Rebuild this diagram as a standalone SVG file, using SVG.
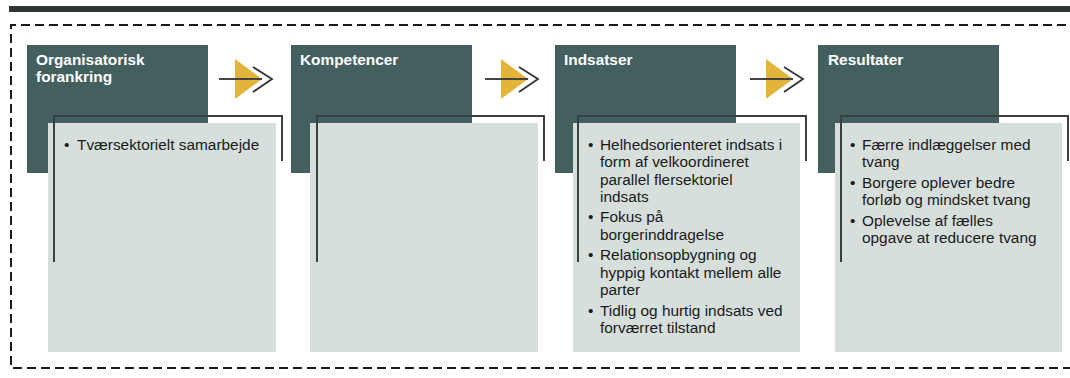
<svg xmlns="http://www.w3.org/2000/svg" width="1070" height="378" viewBox="0 0 1070 378">
  <style>
    .hdr { fill: #43605f; }
    .body { fill: #d6dfdc; }
    .bracket { fill: none; stroke: #3a3f42; stroke-width: 2; }
    .title { font-family: "Liberation Sans", Arial, sans-serif; font-size: 15.4px; font-weight: bold; fill: #ffffff; }
    .item { font-family: "Liberation Sans", Arial, sans-serif; font-size: 15.4px; fill: #1a1a1a; }
  </style>
  <defs>
    <!-- step arrow: shaft, yellow head, open chevron -->
    <g id="step-arrow">
      <polygon points="16,-20 43,0 16,20" fill="#e2b43a"/>
      <line x1="0" y1="0" x2="43" y2="0" stroke="#444" stroke-width="2"/>
      <polyline points="34,-12 53,0 34,13" fill="none" stroke="#333" stroke-width="1.8"/>
    </g>
  </defs>

  <rect width="1070" height="378" fill="#ffffff"/>

  <!-- top rule -->
  <rect x="9" y="6" width="1061" height="6" fill="#2e3537"/>

  <!-- dashed frame, open to the right -->
  <path d="M1080,25 H11 V368 H1080" fill="none" stroke="#1a1a1a" stroke-width="2" stroke-dasharray="9 5"/>

  <g id="node-organisatorisk">
    <rect class="hdr" x="27" y="45" width="181" height="128"/>
    <rect class="body" x="48" y="123" width="228" height="229"/>
    <path class="bracket" d="M54,262 V116 H282 V161"/>
    <text class="title" x="36" y="65">Organisatorisk</text>
    <text class="title" x="36" y="81.5">forankring</text>
    <text class="item" x="64" y="149.5">•</text>
    <text class="item" x="77" y="149.5">Tværsektorielt samarbejde</text>
  </g>

  <g id="node-kompetencer">
    <rect class="hdr" x="291" y="45" width="181" height="128"/>
    <rect class="body" x="310" y="123" width="228" height="229"/>
    <path class="bracket" d="M317,262 V116 H544 V161"/>
    <text class="title" x="300" y="65">Kompetencer</text>
  </g>

  <g id="node-indsatser">
    <rect class="hdr" x="555" y="45" width="181" height="128"/>
    <rect class="body" x="573" y="123" width="227" height="229"/>
    <path class="bracket" d="M578,262 V116 H806 V161"/>
    <text class="title" x="564" y="65">Indsatser</text>
    <text class="item" x="588" y="149.5">•</text>
    <text class="item" x="600" y="149.5">Helhedsorienteret indsats i</text>
    <text class="item" x="600" y="167">form af velkoordineret</text>
    <text class="item" x="600" y="184.5">parallel flersektoriel</text>
    <text class="item" x="600" y="202">indsats</text>
    <text class="item" x="588" y="222">•</text>
    <text class="item" x="600" y="222">Fokus på</text>
    <text class="item" x="600" y="239.5">borgerinddragelse</text>
    <text class="item" x="588" y="260">•</text>
    <text class="item" x="600" y="260">Relationsopbygning og</text>
    <text class="item" x="600" y="277.5">hyppig kontakt mellem alle</text>
    <text class="item" x="600" y="295">parter</text>
    <text class="item" x="588" y="315.5">•</text>
    <text class="item" x="600" y="315.5">Tidlig og hurtig indsats ved</text>
    <text class="item" x="600" y="333">forværret tilstand</text>
  </g>

  <g id="node-resultater">
    <rect class="hdr" x="818" y="45" width="181" height="128"/>
    <rect class="body" x="835" y="123" width="227" height="229"/>
    <path class="bracket" d="M841,262 V116 H1068 V161"/>
    <text class="title" x="828" y="65">Resultater</text>
    <text class="item" x="850" y="149.5">•</text>
    <text class="item" x="862" y="149.5">Færre indlæggelser med</text>
    <text class="item" x="862" y="167">tvang</text>
    <text class="item" x="850" y="187.5">•</text>
    <text class="item" x="862" y="187.5">Borgere oplever bedre</text>
    <text class="item" x="862" y="205">forløb og mindsket tvang</text>
    <text class="item" x="850" y="225.5">•</text>
    <text class="item" x="862" y="225.5">Oplevelse af fælles</text>
    <text class="item" x="862" y="243">opgave at reducere tvang</text>
  </g>

  <g id="connectors">
    <use href="#step-arrow" transform="translate(219,79)"/>
    <use href="#step-arrow" transform="translate(485,79)"/>
    <use href="#step-arrow" transform="translate(750,79)"/>
  </g>
</svg>
